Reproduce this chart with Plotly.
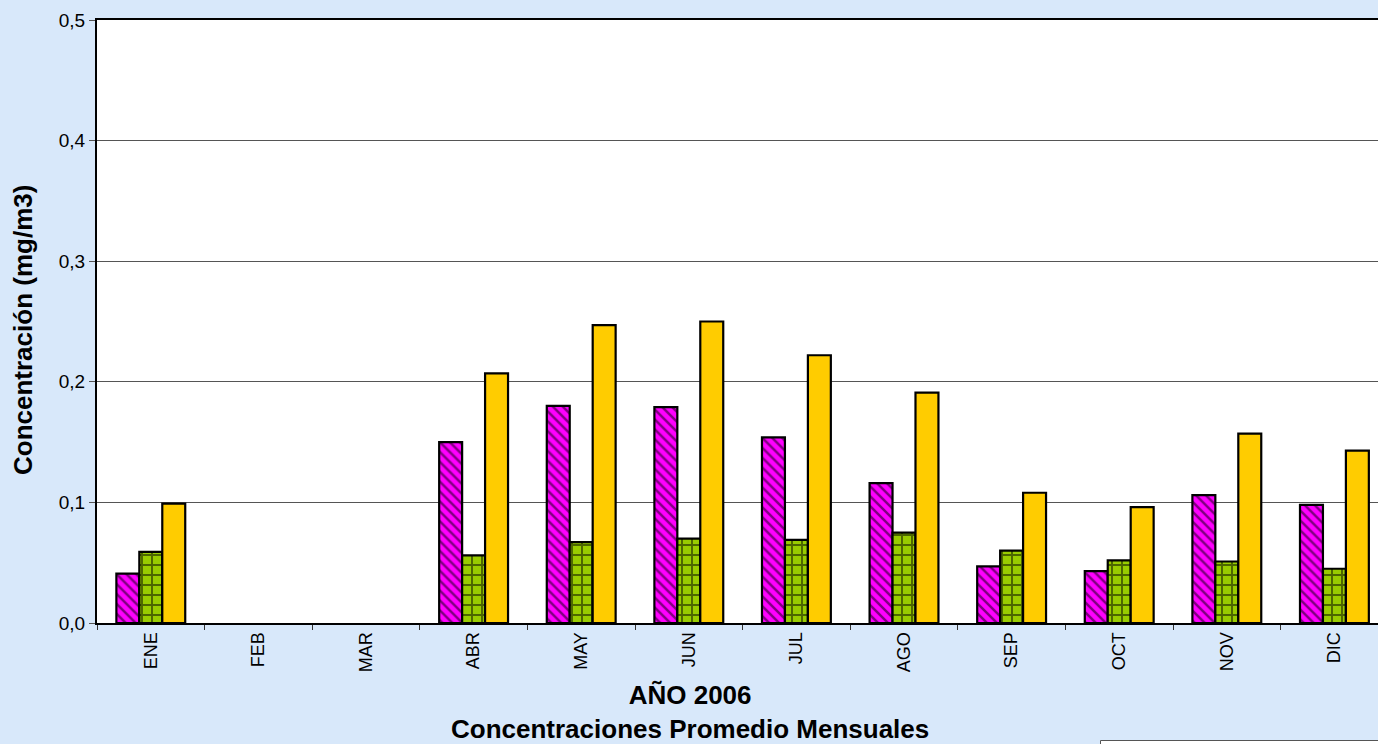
import plotly.graph_objects as go

months = ["ENE", "FEB", "MAR", "ABR", "MAY", "JUN", "JUL", "AGO", "SEP", "OCT", "NOV", "DIC"]
serie_a = [0.041, None, None, 0.150, 0.180, 0.179, 0.154, 0.116, 0.047, 0.043, 0.106, 0.098]
serie_b = [0.059, None, None, 0.056, 0.067, 0.070, 0.069, 0.075, 0.060, 0.052, 0.051, 0.045]
serie_c = [0.099, None, None, 0.207, 0.247, 0.250, 0.222, 0.191, 0.108, 0.096, 0.157, 0.143]
y_ticks = [0.0, 0.1, 0.2, 0.3, 0.4, 0.5]

W, H = 1378, 744
L, R, T, B = 97, 0, 20, 121
PW, PH = W - L - R, H - T - B


def px(x):
    return (x - L) / PW


def py(y):
    return (H - B - y) / PH


FONT = "Liberation Sans, Arial, sans-serif"
fig = go.Figure()
fig.add_trace(go.Bar(
    x=months, y=serie_a, name="Serie 1",
    marker=dict(color="#ff00ff", line=dict(color="black", width=2.2),
                pattern=dict(shape="\\", fgcolor="black", bgcolor="#ff00ff", size=7, solidity=0.35)),
))
fig.add_trace(go.Bar(
    x=months, y=serie_b, name="Serie 2",
    marker=dict(color="#99cc00", line=dict(color="black", width=2.2),
                pattern=dict(shape="+", fgcolor="black", bgcolor="#99cc00", size=10, solidity=0.35)),
))
fig.add_trace(go.Bar(
    x=months, y=serie_c, name="Serie 3",
    marker=dict(color="#ffcc00", line=dict(color="black", width=2.2)),
))

fig.update_layout(
    width=W, height=H,
    margin=dict(l=L, r=R, t=T, b=B, pad=0),
    paper_bgcolor="#d8e8fa",
    plot_bgcolor="white",
    separators=",.",
    barmode="group",
    bargap=0.36,
    bargroupgap=0,
    showlegend=False,
    font=dict(family=FONT, color="black"),
    xaxis=dict(
        type="category", range=[-0.5, 11.405],
        showline=True, linecolor="black", linewidth=2, mirror=True,
        ticks="outside", tickson="boundaries", ticklen=5, tickcolor="#333",
        tickangle=-90, tickfont=dict(size=18, family=FONT),
        showgrid=False, zeroline=False,
    ),
    yaxis=dict(
        range=[0, 0.5], tickvals=y_ticks, tickformat=".1f",
        showline=True, linecolor="black", linewidth=2,
        ticks="outside", ticklen=6, tickcolor="#555",
        tickfont=dict(size=19, family=FONT),
        showgrid=True, gridcolor="#555", gridwidth=1, zeroline=False,
    ),
)

fig.add_annotation(x=px(23), y=py(330), xref="paper", yref="paper", text="<b>Concentración (mg/m3)</b>",
                   textangle=-90, showarrow=False, font=dict(size=26, family=FONT),
                   xanchor="center", yanchor="middle")
fig.add_annotation(x=px(690), y=py(712), xref="paper", yref="paper",
                   text="<b>AÑO 2006</b><br><b>Concentraciones Promedio Mensuales</b>",
                   showarrow=False, font=dict(size=26, family=FONT), xanchor="center", yanchor="middle",
                   align="center")
fig.add_shape(type="rect", xref="paper", yref="paper", x0=px(1100.5), x1=px(1400), y0=py(740.5), y1=py(800),
              line=dict(color="#555", width=1), fillcolor="white", layer="above")

fig.write_html("out.html", config={"displayModeBar": False},
               post_script="document.body.style.margin='0';document.body.style.padding='0';document.body.style.overflow='hidden';")
